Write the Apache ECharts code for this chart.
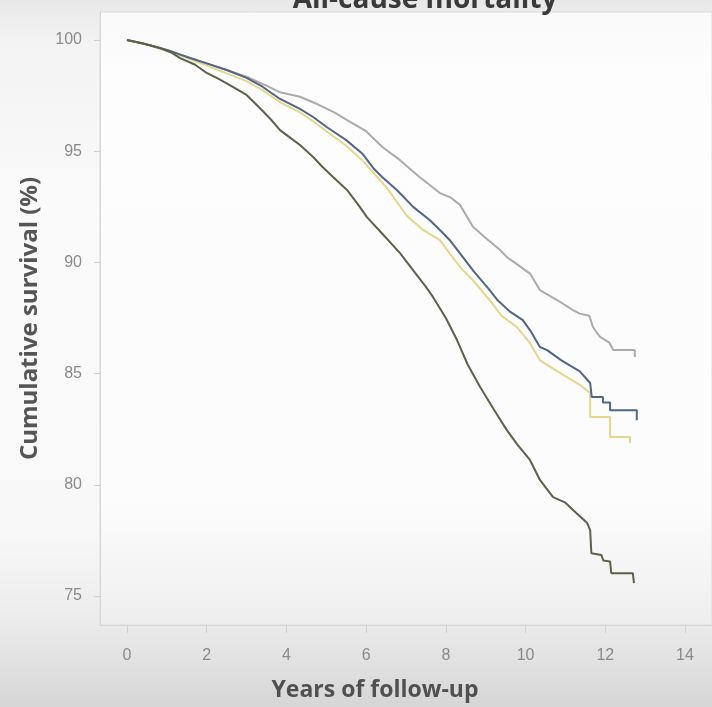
<!DOCTYPE html>
<html>
<head>
<meta charset="utf-8">
<script src="https://cdn.jsdelivr.net/npm/echarts@6/dist/echarts.min.js"></script>
<style>
  html, body { margin: 0; padding: 0; }
  body {
    width: 712px; height: 707px; overflow: hidden;
    background: linear-gradient(to bottom, #e8e8e8 0%, #f3f3f3 6%, #fafafa 30%, #f8f8f8 75%, #ebebeb 88%, #d6d6d6 100%);
  }
  #chart { width: 712px; height: 707px; }
</style>
</head>
<body>
<div id="chart"></div>
<script>
// Cumulative survival (%) by years of follow-up, four groups.
// Repeated years mark the vertical drops of the survival curves.
const xTicks = [0, 2, 4, 6, 8, 10, 12, 14];
const yTicks = [75, 80, 85, 90, 95, 100];

const grayYears = [0, 0.5, 1.0, 1.5, 2.0, 2.5, 3.0, 3.5, 3.84, 4.34, 4.8, 5.2, 5.52, 6.0, 6.4, 6.85, 7.3, 7.85, 8.1, 8.35, 8.68, 9.0, 9.36, 9.53, 9.8, 10.11, 10.36, 10.8, 11.19, 11.36, 11.6, 11.69, 11.79, 11.87, 12.1, 12.2, 12.74, 12.74];
const graySurv  = [100, 99.8, 99.55, 99.25, 98.95, 98.65, 98.35, 97.95, 97.65, 97.45, 97.1, 96.75, 96.4, 95.9, 95.2, 94.6, 93.9, 93.12, 92.94, 92.6, 91.6, 91.1, 90.56, 90.24, 89.9, 89.5, 88.76, 88.3, 87.86, 87.7, 87.6, 87.1, 86.83, 86.65, 86.4, 86.06, 86.06, 85.75];

const yellowYears = [0, 0.5, 1.0, 1.5, 2.0, 2.5, 3.0, 3.4, 3.84, 4.34, 4.67, 5.0, 5.5, 5.9, 6.2, 6.5, 7.02, 7.4, 7.85, 8.1, 8.4, 8.68, 9.1, 9.4, 9.78, 10.1, 10.36, 10.8, 11.36, 11.62, 11.62, 12.12, 12.12, 12.62, 12.62];
const yellowSurv  = [100, 99.8, 99.5, 99.2, 98.85, 98.5, 98.15, 97.75, 97.2, 96.75, 96.35, 95.9, 95.25, 94.6, 94.0, 93.4, 92.1, 91.5, 91.0, 90.4, 89.7, 89.2, 88.3, 87.6, 87.1, 86.4, 85.6, 85.1, 84.5, 84.13, 83.05, 83.05, 82.15, 82.15, 81.88];

const blueYears = [0, 0.5, 1.0, 1.5, 2.0, 2.5, 3.0, 3.4, 3.84, 4.34, 4.67, 5.0, 5.5, 5.9, 6.2, 6.4, 6.77, 7.18, 7.6, 7.85, 8.1, 8.35, 8.7, 9.1, 9.3, 9.6, 9.93, 10.11, 10.36, 10.54, 10.9, 11.36, 11.62, 11.66, 11.94, 11.94, 12.12, 12.12, 12.79, 12.79];
const blueSurv  = [100, 99.8, 99.55, 99.24, 98.95, 98.65, 98.3, 97.9, 97.35, 96.9, 96.54, 96.1, 95.5, 94.9, 94.2, 93.84, 93.26, 92.5, 91.9, 91.46, 91.0, 90.42, 89.6, 88.76, 88.3, 87.8, 87.41, 86.96, 86.2, 86.06, 85.6, 85.1, 84.58, 83.95, 83.95, 83.7, 83.7, 83.36, 83.36, 82.9];

const oliveYears = [0, 0.4, 0.83, 1.1, 1.33, 1.7, 2.0, 2.3, 2.6, 3.0, 3.3, 3.6, 3.84, 4.1, 4.34, 4.67, 4.9, 5.17, 5.52, 5.8, 6.02, 6.4, 6.85, 7.2, 7.5, 7.68, 8.0, 8.28, 8.55, 8.86, 9.2, 9.53, 9.8, 10.11, 10.36, 10.69, 11.0, 11.19, 11.54, 11.62, 11.65, 11.9, 11.95, 12.12, 12.15, 12.69, 12.72];
const oliveSurv  = [100, 99.85, 99.64, 99.45, 99.19, 98.9, 98.52, 98.25, 97.95, 97.53, 97.0, 96.45, 95.95, 95.6, 95.28, 94.74, 94.3, 93.84, 93.26, 92.6, 92.04, 91.3, 90.42, 89.6, 88.9, 88.44, 87.5, 86.51, 85.4, 84.4, 83.4, 82.46, 81.8, 81.12, 80.22, 79.45, 79.2, 78.87, 78.3, 77.97, 76.93, 76.85, 76.6, 76.55, 76.03, 76.03, 75.58];

const zip = (xs, ys) => xs.map((x, i) => [x, ys[i]]);

const chart = echarts.init(document.getElementById('chart'), null, { renderer: 'canvas' });

const curve = (name, xs, ys, color) => ({
  name: name,
  type: 'line',
  showSymbol: false,
  symbol: 'none',
  data: zip(xs, ys),
  lineStyle: { color: color, width: 2 },
  itemStyle: { color: color },
  animation: false
});

chart.setOption({
  backgroundColor: 'transparent',
  textStyle: { fontFamily: 'Liberation Sans Narrow, Liberation Sans, Arial, sans-serif' },
  title: [
    {
      text: 'All-cause mortality',
      left: 420, top: -19, textAlign: 'center',
      textStyle: { fontSize: 28, fontWeight: 'bold', color: '#3a3a3a', fontFamily: 'Open Sans, Liberation Sans, sans-serif' }
    },
    {
      text: 'Years of follow-up',
      left: 370, top: 674, textAlign: 'center',
      textStyle: { fontSize: 23, fontWeight: 'bold', color: '#505050', fontFamily: 'Open Sans, Liberation Sans, sans-serif' }
    }
  ],
  grid: {
    left: 100, right: 0, top: 12, bottom: 82,
    show: true,
    borderColor: '#dcdcdc',
    borderWidth: 1,
    backgroundColor: new echarts.graphic.LinearGradient(0, 0, 0, 1, [
      { offset: 0, color: '#f9f9f9' },
      { offset: 0.1, color: '#fdfdfd' },
      { offset: 0.8, color: '#fcfcfc' },
      { offset: 1, color: '#eeeeee' }
    ])
  },
  xAxis: {
    type: 'value',
    min: -0.677, max: 14.677,
    axisLine: { show: true, onZero: false, lineStyle: { color: '#d6d6d6' } },
    axisTick: { show: true, customValues: xTicks, length: 8, lineStyle: { color: '#d0d0d0' } },
    axisLabel: { customValues: xTicks, color: '#8a8a8a', fontSize: 16, margin: 23 },
    splitLine: { show: false }
  },
  yAxis: {
    type: 'value',
    min: 73.70, max: 101.26,
    name: 'Cumulative survival (%)',
    nameLocation: 'middle',
    nameGap: 58,
    nameRotate: 90,
    nameTextStyle: { fontSize: 24, fontWeight: 'bold', color: '#555555', fontFamily: 'Open Sans, Liberation Sans, sans-serif' },
    axisLine: { show: true, onZero: false, lineStyle: { color: '#d6d6d6' } },
    axisTick: { show: true, customValues: yTicks, length: 6, lineStyle: { color: '#d0d0d0' } },
    axisLabel: { customValues: yTicks, color: '#8a8a8a', fontSize: 16, margin: 18 },
    splitLine: { show: false }
  },
  series: [
    curve('Group A', grayYears, graySurv, '#ababab'),
    curve('Group C', yellowYears, yellowSurv, '#e6d68a'),
    curve('Group B', blueYears, blueSurv, '#4f6684'),
    curve('Group D', oliveYears, oliveSurv, '#5d6148')
  ]
});
</script>
</body>
</html>
